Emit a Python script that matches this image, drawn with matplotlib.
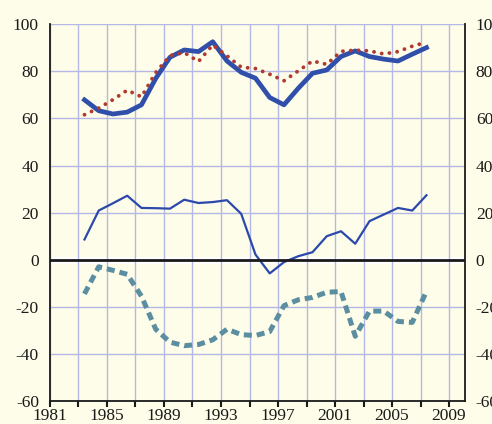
import glob
import numpy as np
import matplotlib
matplotlib.use("Agg")
import matplotlib.pyplot as plt
from matplotlib import font_manager

# annual values, 1983-2007
years = np.arange(1983, 2008)
thick_blue = [67.9, 63.3, 61.9, 62.7, 65.8, 77.0, 86.0, 89.1, 88.4, 92.6, 84.4, 79.6, 77.1,
              68.9, 65.8, 72.8, 79.2, 80.6, 86.3, 88.7, 86.3, 85.2, 84.4, 87.3, 90.1]
red_dotted = [61.6, 64.4, 68.0, 72.0, 69.2, 79.5, 86.7, 88.0, 84.2, 91.2, 86.6, 81.8, 81.2,
              78.8, 76.0, 80.2, 84.4, 83.0, 88.5, 89.0, 88.7, 87.4, 88.4, 90.7, 92.4]
thin_blue = [8.6, 20.9, 24.0, 27.2, 22.0, 21.9, 21.7, 25.5, 24.1, 24.5, 25.3, 19.5, 2.2,
             -5.8, -1.0, 1.5, 3.2, 10.0, 12.1, 6.8, 16.4, 19.2, 22.0, 20.9, 27.4]
teal_dashed = [-14.5, -3.0, -4.5, -6.2, -15.5, -29.5, -35.0, -36.5, -36.0, -34.0, -29.5, -31.8,
               -32.2, -30.5, -19.5, -17.0, -16.0, -13.8, -13.5, -32.5, -21.8, -21.8, -26.2,
               -26.6, -13.4]

x_ticks = np.arange(1981, 2010, 2)
x_labels = [str(y) if (y - 1981) % 4 == 0 else "" for y in x_ticks]
y_ticks = np.arange(-60, 101, 20)

bg = "#fefde9"

# find a Times-like font file
serif_files = glob.glob("/usr/share/fonts/**/LiberationSerif-Regular.ttf", recursive=True)
serif_files += [f.fname for f in font_manager.fontManager.ttflist
                if "liberationserif-regular" in f.fname.lower()]
if serif_files:
    fp = font_manager.FontProperties(fname=serif_files[0], size=12.5)
else:
    fp = font_manager.FontProperties(family="serif", size=12.5)

fig = plt.figure(figsize=(4.92, 4.24), dpi=100, facecolor=bg)
ax = fig.add_axes([0.1016, 0.0542, 0.8429, 0.8885], facecolor=bg)

# data sits at mid-year
x = years + 0.42

ax.grid(True, color="#b3b8e6", linewidth=1.0, zorder=0)
ax.axhline(0, color="white", linewidth=5, zorder=1)

ax.plot(x, red_dotted, color="#b03a2e", linewidth=2.8, linestyle=(0, (0.01, 2.0)),
        dash_capstyle="round", zorder=3)
ax.plot(x, thick_blue, color="#2f4fab", linewidth=3.4, zorder=2.5)
ax.plot(x, thin_blue, color="#2b49ad", linewidth=1.6, zorder=2)
ax.plot(x, teal_dashed, color="#5b8ea0", linewidth=3.6, linestyle=(0, (1.6, 1.0)), zorder=3)

ax.axhline(0, color="#1a1a1a", linewidth=2.0, zorder=2.2)

ax.set_xlim(1981, 2010.1)
ax.set_ylim(-60, 100)
ax.set_xticks(x_ticks)
ax.set_xticklabels(x_labels, fontproperties=fp)
ax.set_yticks(y_ticks)
ax.set_yticklabels([str(v) for v in y_ticks], fontproperties=fp)

ax.tick_params(axis="y", length=0, pad=8, labelright=True, colors="#1a1a1a")
ax.tick_params(axis="x", direction="out", length=4, width=1.5, pad=1, colors="#1a1a1a")
for t in ax.yaxis.get_major_ticks():
    t.label1.set_fontproperties(fp)
    t.label2.set_fontproperties(fp)

ax.spines["top"].set_visible(False)
for side in ["left", "right", "bottom"]:
    ax.spines[side].set_color("#1a1a1a")
    ax.spines[side].set_linewidth(1.3)

fig.savefig("out.png", dpi=100, facecolor=bg)
